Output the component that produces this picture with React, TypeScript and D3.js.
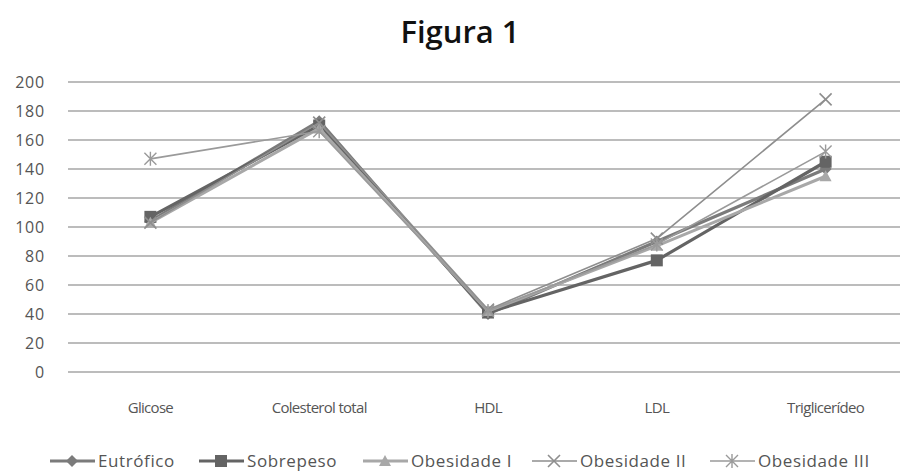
import React from "react";
import * as d3 from "d3";

const categories = ["Glicose", "Colesterol total", "HDL", "LDL", "Triglicerídeo"];
const seriesNames = ["Eutrófico", "Sobrepeso", "Obesidade I", "Obesidade II", "Obesidade III"];
const eutrofico = [104, 173, 40, 90, 140];
const sobrepeso = [107, 170, 41, 77, 145];
const obesidadeI = [103, 168, 42, 87, 135];
const obesidadeII = [103, 172, 43, 92, 188];
const obesidadeIII = [147, 166, 42, 88, 152];
const yTicks = [0, 20, 40, 60, 80, 100, 120, 140, 160, 180, 200];

const seriesValues = [eutrofico, sobrepeso, obesidadeI, obesidadeII, obesidadeIII];
const colors = ["#7b7b7b", "#646464", "#a8a8a8", "#8e8e8e", "#9a9a9a"];
const widths = [3.2, 3.2, 3, 1.6, 1.6];
const markers = ["diamond", "square", "triangle", "x", "star"];
const legendX = [50, 199, 363, 532, 710];

function Marker({ type, x, y, color }: { type: string; x: number; y: number; color: string }) {
  const s = 6;
  if (type === "diamond")
    return <path d={`M${x},${y - s} L${x + s},${y} L${x},${y + s} L${x - s},${y} Z`} fill={color} />;
  if (type === "square")
    return <rect x={x - 6} y={y - 6} width={12} height={12} fill={color} />;
  if (type === "triangle")
    return <path d={`M${x},${y - 6} L${x + 6},${y + 5} L${x - 6},${y + 5} Z`} fill={color} />;
  if (type === "x")
    return (
      <path d={`M${x - 6},${y - 6} L${x + 6},${y + 6} M${x - 6},${y + 6} L${x + 6},${y - 6}`} stroke={color} strokeWidth={1.6} />
    );
  return (
    <path
      d={`M${x - 6},${y - 6} L${x + 6},${y + 6} M${x - 6},${y + 6} L${x + 6},${y - 6} M${x},${y - 7} L${x},${y + 7}`}
      stroke={color}
      strokeWidth={1.4}
    />
  );
}

export default function App() {
  const W = 900, H = 473;
  const left = 66, right = 910, top = 82, bottom = 372;
  const x = d3.scalePoint<string>().domain(categories).range([left, right]).padding(0.5);
  const y = d3.scaleLinear().domain([0, 200]).range([bottom, top]);
  const line = d3.line<number>().x((_, i) => x(categories[i])!).y((d) => y(d));
  const font = "'Open Sans', 'Liberation Sans', sans-serif";

  return (
    <svg width={W} height={H} style={{ position: "absolute", left: 0, top: 0, background: "#fff" }} fontFamily={font}>
      <rect width={W} height={H} fill="#fff" />
      <text x={460} y={43} textAnchor="middle" fontSize={31} fontWeight={600} fill="#111">Figura 1</text>
      {yTicks.map((t) => (
        <g key={t}>
          <line x1={68} x2={900} y1={y(t)} y2={y(t)} stroke="#bcbcbc" strokeWidth={2} />
          <text x={45} y={y(t) + 5.5} textAnchor="end" fontSize={16} letterSpacing={0.8} fill="#555">{t}</text>
        </g>
      ))}
      {categories.map((c) => (
        <text key={c} x={x(c)} y={413} textAnchor="middle" fontSize={15} fill="#555" letterSpacing={-0.7}>{c}</text>
      ))}
      {seriesValues.map((vals, si) => (
        <g key={si}>
          <path d={line(vals)!} fill="none" stroke={colors[si]} strokeWidth={widths[si]} strokeLinejoin="round" />
          {vals.map((v, i) => (
            <Marker key={i} type={markers[si]} x={x(categories[i])!} y={y(v)} color={colors[si]} />
          ))}
        </g>
      ))}
      {seriesNames.map((n, si) => {
        const lx = legendX[si];
        return (
          <g key={n}>
            <line x1={lx} x2={lx + 45} y1={461} y2={461} stroke={colors[si]} strokeWidth={widths[si]} />
            <Marker type={markers[si]} x={lx + 22} y={461} color={colors[si]} />
            <text x={lx + 48} y={467} fontSize={17} letterSpacing={0.6} fill="#555">{n}</text>
          </g>
        );
      })}
    </svg>
  );
}
